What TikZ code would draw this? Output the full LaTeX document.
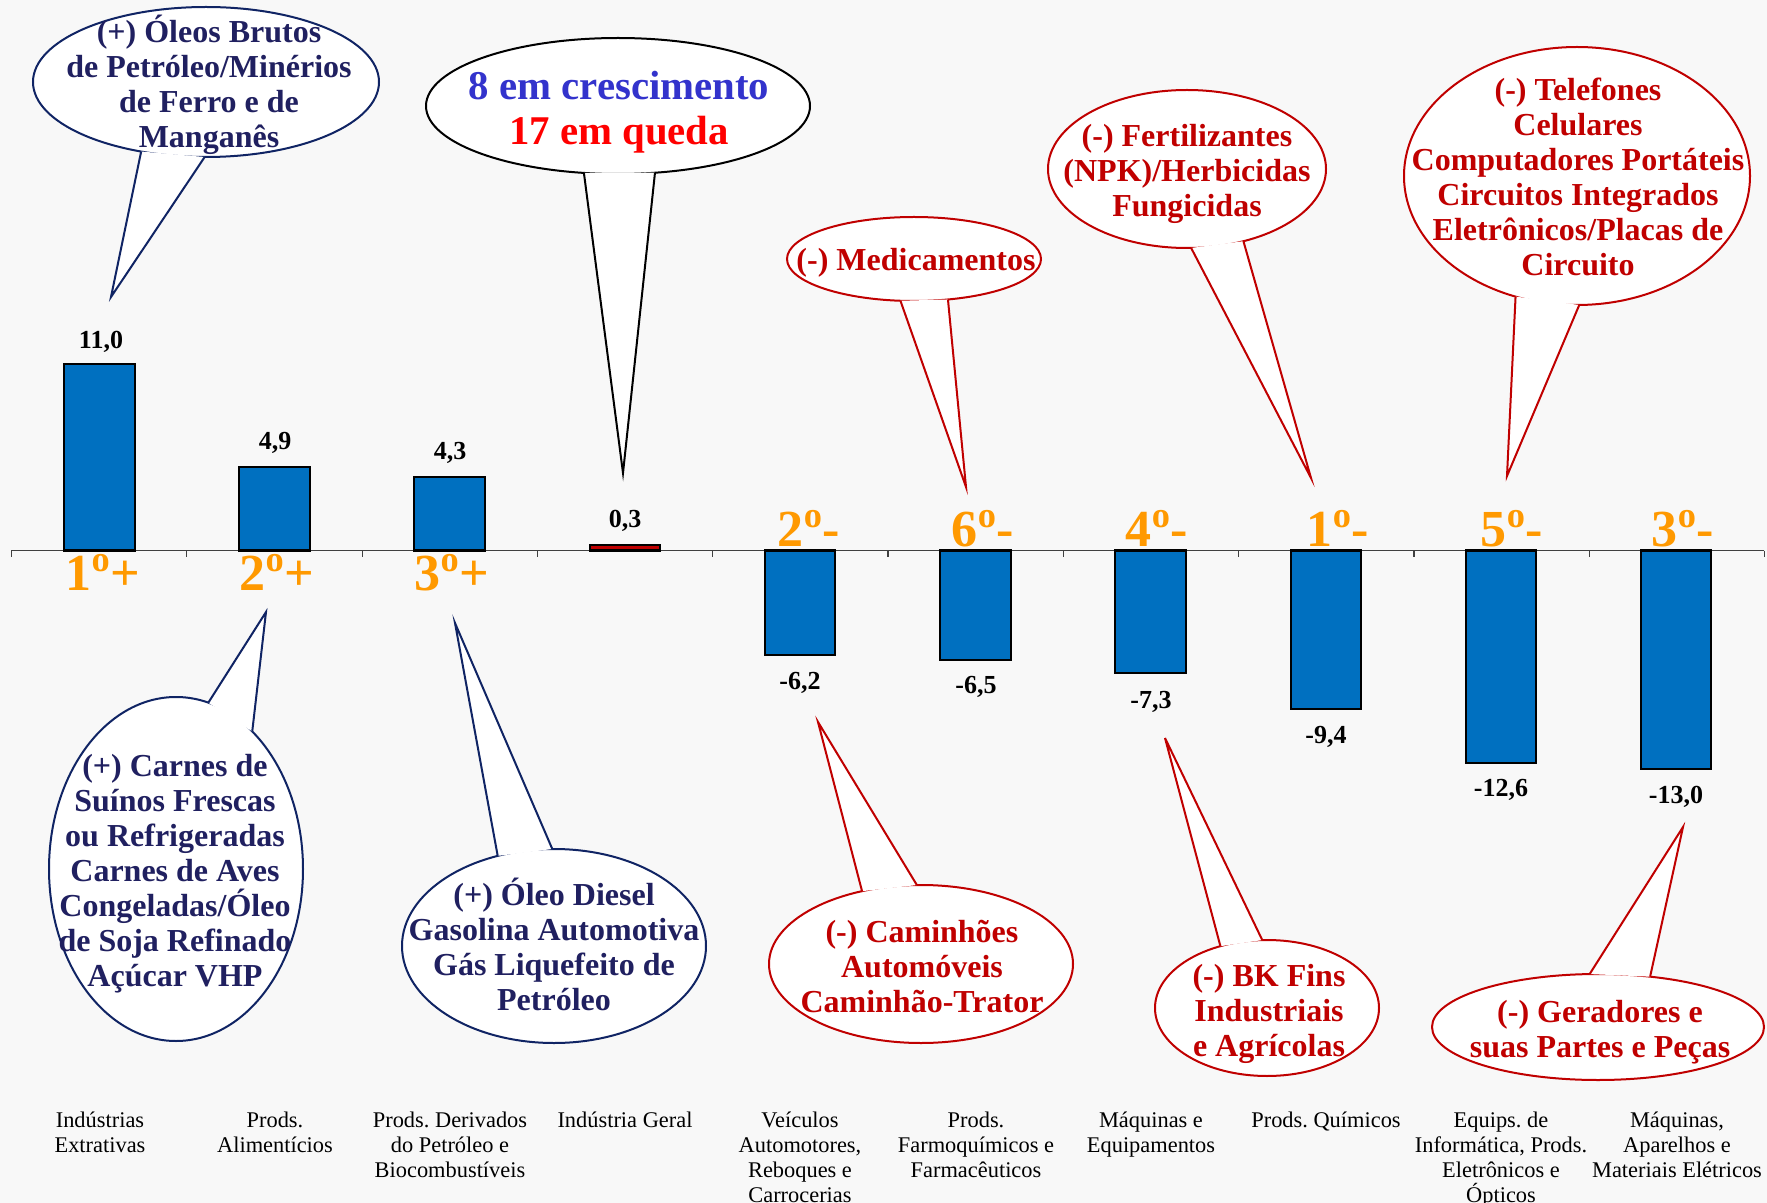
\documentclass[tikz,border=0pt]{standalone}
\usepackage{fontspec}
\setmainfont{Liberation Serif}
\usetikzlibrary{shapes.geometric}
\frenchspacing
\definecolor{BgGray}{RGB}{248,248,248}
\definecolor{BarBlue}{RGB}{0,112,192}
\definecolor{DarkRed}{RGB}{192,0,0}
\definecolor{NavyText}{RGB}{32,32,96}
\definecolor{NavyLine}{RGB}{16,36,100}
\definecolor{GrowBlue}{RGB}{51,51,204}
\definecolor{FallRed}{RGB}{255,0,0}
\definecolor{RankOrange}{RGB}{255,153,0}

\begin{document}
\begin{tikzpicture}[x=0.5pt,y=0.5pt,yscale=-1,xscale=1,
	balloon/.style={ellipse, draw=#1, fill=white, line width=1pt, inner sep=0pt, outer sep=0pt},
	balloontail/.style={draw=#1, fill=white, line width=1pt, line join=miter},
	balloontxt/.style={font=\fontsize{16}{17.5}\selectfont\bfseries, align=center, inner sep=0pt},
	colbar/.style={draw=black, line width=1.2pt, fill=BarBlue},
	axisline/.style={draw=black!75, line width=0.6pt},
	vallbl/.style={font=\fontsize{13}{15}\selectfont\bfseries, inner sep=0pt},
	ranklbl/.style={text=RankOrange, font=\fontsize{26}{28}\selectfont\bfseries, inner sep=0pt, anchor=base},
	catlbl/.style={font=\fontsize{11.2}{12.5}\selectfont, align=center, anchor=north, inner sep=0pt}]

		% Background and picture size
		\fill[BgGray] (0,0) rectangle (1767,1203);
		\useasboundingbox (0,0) rectangle (1767,1203);

		% Horizontal axis with the category ticks
		\draw[axisline] (11,550.5) -- (1764,550.5);
		\draw[axisline] (11.5,550.5) -- (11.5,556.5);
		\draw[axisline] (186.8,550.5) -- (186.8,556.5);
		\draw[axisline] (362.1,550.5) -- (362.1,556.5);
		\draw[axisline] (537.4,550.5) -- (537.4,556.5);
		\draw[axisline] (712.7,550.5) -- (712.7,556.5);
		\draw[axisline] (888,550.5) -- (888,556.5);
		\draw[axisline] (1063.3,550.5) -- (1063.3,556.5);
		\draw[axisline] (1238.6,550.5) -- (1238.6,556.5);
		\draw[axisline] (1413.9,550.5) -- (1413.9,556.5);
		\draw[axisline] (1589.2,550.5) -- (1589.2,556.5);
		\draw[axisline] (1764.5,550.5) -- (1764.5,556.5);

		% Bars above the axis
		\draw[colbar] (64,550.5) rectangle (135,364);
		\draw[colbar] (239,550.5) rectangle (310,467);
		\draw[colbar] (414,550.5) rectangle (485,477);
		\draw[colbar, fill=DarkRed] (590,550.5) rectangle (660,545);

		% Bars below the axis
		\draw[colbar] (765,550.5) rectangle (835,655);
		\draw[colbar] (940,550.5) rectangle (1011,660);
		\draw[colbar] (1115,550.5) rectangle (1186,673);
		\draw[colbar] (1291,550.5) rectangle (1361,709);
		\draw[colbar] (1466,550.5) rectangle (1536,763);
		\draw[colbar] (1641,550.5) rectangle (1711,769);

		% Values of the bars
		\node[vallbl] (v1) at (101,342) {11,0};
		\node[vallbl] (v2) at (275,443) {4,9};
		\node[vallbl] (v3) at (450,453) {4,3};
		\node[vallbl] (v4) at (625,521) {0,3};
		\node[vallbl] (v5) at (800,683) {-6,2};
		\node[vallbl] (v6) at (976,687) {-6,5};
		\node[vallbl] (v7) at (1151,702) {-7,3};
		\node[vallbl] (v8) at (1326,737) {-9,4};
		\node[vallbl] (v9) at (1501,790) {-12,6};
		\node[vallbl] (v10) at (1676,797) {-13,0};

		% Ranks in orange
		\node[ranklbl] (r1) at (103,590) {1\textsuperscript{o}+};
		\node[ranklbl] (r2) at (277,590) {2\textsuperscript{o}+};
		\node[ranklbl] (r3) at (452,590) {3\textsuperscript{o}+};
		\node[ranklbl] (r5) at (809,546) {2\textsuperscript{o}-};
		\node[ranklbl] (r6) at (983,546) {6\textsuperscript{o}-};
		\node[ranklbl] (r7) at (1157,546) {4\textsuperscript{o}-};
		\node[ranklbl] (r8) at (1338,546) {1\textsuperscript{o}-};
		\node[ranklbl] (r9) at (1512,546) {5\textsuperscript{o}-};
		\node[ranklbl] (r10) at (1683,546) {3\textsuperscript{o}-};

		% Category names under the chart
		\node[catlbl] (k1) at (100,1112) {Indústrias\\Extrativas};
		\node[catlbl] (k2) at (275,1112) {Prods.\\Alimentícios};
		\node[catlbl] (k3) at (450,1112) {Prods. Derivados\\do Petróleo e\\Biocombustíveis};
		\node[catlbl] (k4) at (625,1112) {Indústria Geral};
		\node[catlbl] (k5) at (800,1112) {Veículos\\Automotores,\\Reboques e\\Carrocerias};
		\node[catlbl] (k6) at (976,1112) {Prods.\\Farmoquímicos e\\Farmacêuticos};
		\node[catlbl] (k7) at (1151,1112) {Máquinas e\\Equipamentos};
		\node[catlbl] (k8) at (1326,1112) {Prods. Químicos};
		\node[catlbl] (k9) at (1501,1112) {Equips. de\\Informática, Prods.\\Eletrônicos e\\Ópticos};
		\node[catlbl] (k10) at (1677,1112) {Máquinas,\\Aparelhos e\\Materiais Elétricos};

		% Balloon: crude oils and ores
		\node[balloon=NavyLine, minimum width=173pt, minimum height=75pt] (c1) at (206,82) {};
		\coordinate (c1tip) at (111,297);
		\filldraw[balloontail=NavyLine] (c1.227) -- (c1tip) -- (c1.269);
		\node[balloontxt, text=NavyText] (c1txt) at (209,85) {(+) Óleos Brutos\\de Petróleo/Minérios\\de Ferro e de\\Manganês};

		% Balloon: growing and falling count
		\node[balloon=black, minimum width=192pt, minimum height=68pt] (c2) at (618,106) {};
		\coordinate (c2tip) at (623,473);
		\filldraw[balloontail=black] (c2.243) -- (c2tip) -- (c2.299);
		\node[balloontxt, font=\fontsize{20.4}{22.5}\selectfont\bfseries] (c2txt) at (619,112) {\textcolor{GrowBlue}{8 em crescimento}\\\textcolor{FallRed}{17 em queda}};

		% Balloon: medicines
		\node[balloon=DarkRed, minimum width=127pt, minimum height=42pt] (c3) at (914,259) {};
		\coordinate (c3tip) at (966,487);
		\filldraw[balloontail=DarkRed] (c3.252) -- (c3tip) -- (c3.310);
		\node[balloontxt, text=DarkRed] (c3txt) at (916,263) {(-) Medicamentos};

		% Balloon: fertilizers
		\node[balloon=DarkRed, minimum width=139pt, minimum height=79pt] (c4) at (1187,169) {};
		\coordinate (c4tip) at (1311,478);
		\filldraw[balloontail=DarkRed] (c4.273) -- (c4tip) -- (c4.308);
		\node[balloontxt, text=DarkRed] (c4txt) at (1187,174) {(-) Fertilizantes\\(NPK)/Herbicidas\\Fungicidas};

		% Balloon: phones and computers
		\node[balloon=DarkRed, minimum width=173pt, minimum height=129pt] (c5) at (1577,176) {};
		\coordinate (c5tip) at (1507,476);
		\filldraw[balloontail=DarkRed] (c5.243) -- (c5tip) -- (c5.271);
		\node[balloontxt, text=DarkRed] (c5txt) at (1578,177) {(-) Telefones\\Celulares\\Computadores Portáteis\\Circuitos Integrados\\Eletrônicos/Placas de\\Circuito};

		% Balloon: meats, oil and sugar
		\node[balloon=NavyLine, minimum width=127pt, minimum height=172pt] (c6) at (176,869) {};
		\coordinate (c6tip) at (266,612);
		\filldraw[balloontail=NavyLine] (c6.79) -- (c6tip) -- (c6.61);
		\node[balloontxt, text=NavyText] (c6txt) at (175,874) {(+) Carnes de\\Suínos Frescas\\ou Refrigeradas\\Carnes de Aves\\Congeladas/Óleo\\de Soja Refinado\\Açúcar VHP};

		% Balloon: fuels
		\node[balloon=NavyLine, minimum width=152pt, minimum height=97pt] (c7) at (554,946) {};
		\coordinate (c7tip) at (455,623);
		\filldraw[balloontail=NavyLine] (c7.122) -- (c7tip) -- (c7.91);
		\node[balloontxt, text=NavyText] (c7txt) at (554,944) {(+) Óleo Diesel\\Gasolina Automotiva\\Gás Liquefeito de\\Petróleo};

		% Balloon: trucks and cars
		\node[balloon=DarkRed, minimum width=152pt, minimum height=79pt] (c8) at (921,964) {};
		\coordinate (c8tip) at (818,722);
		\filldraw[balloontail=DarkRed] (c8.129) -- (c8tip) -- (c8.93);
		\node[balloontxt, text=DarkRed] (c8txt) at (922,967) {(-) Caminhões\\Automóveis\\Caminhão-Trator};

		% Balloon: capital goods
		\node[balloon=DarkRed, minimum width=112pt, minimum height=68pt] (c9) at (1267,1008) {};
		\coordinate (c9tip) at (1165,738);
		\filldraw[balloontail=DarkRed] (c9.127) -- (c9tip) -- (c9.94);
		\node[balloontxt, text=DarkRed] (c9txt) at (1269,1014) {(-) BK Fins\\Industriais\\e Agrícolas};

		% Balloon: generators
		\node[balloon=DarkRed, minimum width=166pt, minimum height=53pt] (c10) at (1598,1027) {};
		\coordinate (c10tip) at (1683,827);
		\filldraw[balloontail=DarkRed] (c10.99) -- (c10tip) -- (c10.44);
		\node[balloontxt, text=DarkRed] (c10txt) at (1600,1032) {(-) Geradores e\\suas Partes e Peças};
	\end{tikzpicture}
\end{document}
